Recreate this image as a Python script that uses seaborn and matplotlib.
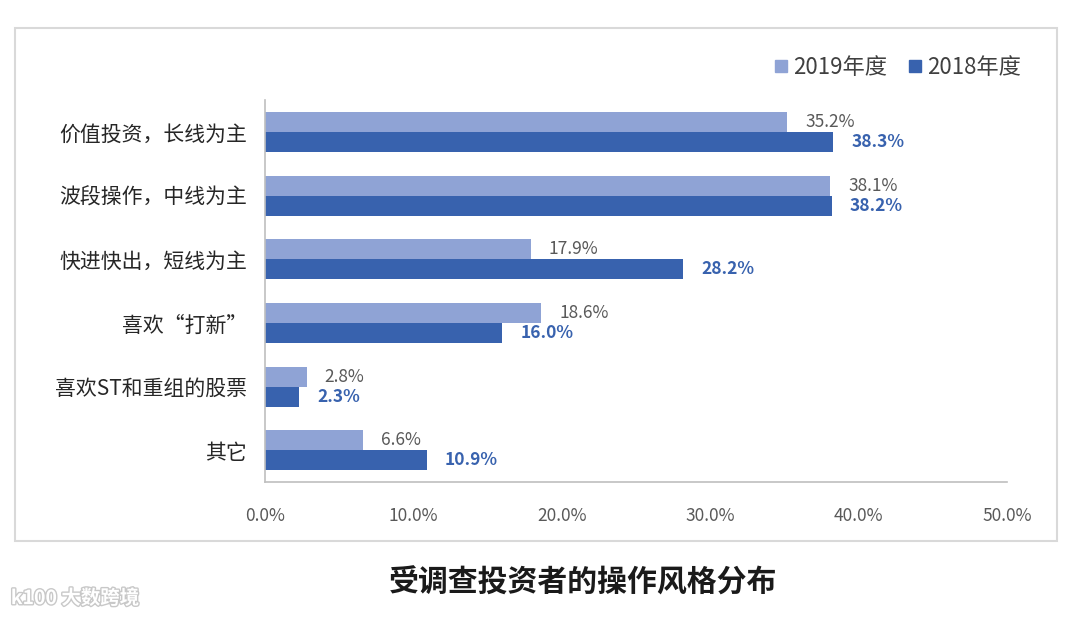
import numpy as np
import pandas as pd
import seaborn as sns
import matplotlib.pyplot as plt
from matplotlib.patches import Rectangle, Patch
import matplotlib.patheffects as pe

# data
categories = ['价值投资，长线为主', '波段操作，中线为主', '快进快出，短线为主',
              '喜欢“打新”', '喜欢ST和重组的股票', '其它']
vals_2019 = [35.2, 38.1, 17.9, 18.6, 2.8, 6.6]
vals_2018 = [38.3, 38.2, 28.2, 16.0, 2.3, 10.9]
years = ['2019年度', '2018年度']

light_blue = '#8FA3D5'
dark_blue = '#3862AE'

df = pd.DataFrame({
    'category': categories * 2,
    'value': vals_2019 + vals_2018,
    'year': [years[0]] * len(categories) + [years[1]] * len(categories),
})

sns.set_theme(style='white')
plt.rcParams['font.family'] = ['Noto Sans CJK SC', 'DejaVu Sans']

fig = plt.figure(figsize=(10.8, 6.18), dpi=100)
ax = fig.add_axes([0.2454, 0.22, 0.687, 0.618])

sns.barplot(data=df, y='category', x='value', hue='year', order=categories,
            hue_order=years, palette=[light_blue, dark_blue], orient='h',
            width=0.63, gap=0, saturation=1, linewidth=0, ax=ax, legend=False)

# value labels
label_styles = [('#595959', 'normal'), (dark_blue, 'bold')]
for cont, (col, fw) in zip(ax.containers, label_styles):
    ax.bar_label(cont, labels=[f'{b.get_width():.1f}%' for b in cont],
                 padding=13, color=col, fontsize=12.5, fontweight=fw)

ax.set_xlim(0, 50)
ax.set_xticks(np.arange(0, 51, 10))
ax.set_xticklabels([f'{t:.1f}%' for t in np.arange(0, 51, 10)], color='#595959', fontsize=12.5)
ax.set_xlabel('')
ax.set_ylabel('')
ax.tick_params(axis='y', labelsize=15, colors='#262626', length=0, pad=13)
ax.tick_params(axis='x', direction='in', length=5, color='#bfbfbf', pad=18)
for s in ['top', 'right']:
    ax.spines[s].set_visible(False)
for s in ['left', 'bottom']:
    ax.spines[s].set_color('#bfbfbf')
    ax.spines[s].set_linewidth(1.2)

# legend
handles = [Patch(color=light_blue, label=years[0]), Patch(color=dark_blue, label=years[1])]
fig.legend(handles=handles, loc='center right', bbox_to_anchor=(0.964, 0.891), ncol=2,
           frameon=False, fontsize=16, handlelength=0.5, handleheight=0.5,
           handletextpad=0.3, columnspacing=1.0, labelcolor='#404040')

# outer frame
fig.patches.append(Rectangle((0.0139, 0.1246), 0.9648, 0.830, transform=fig.transFigure,
                             fill=False, edgecolor='#d9d9d9', linewidth=1.5))

fig.text(0.54, 0.058, '受调查投资者的操作风格分布', ha='center', va='center',
         fontsize=21.5, fontweight='bold', color='#1a1a1a')

# watermark
fig.text(0.01, 0.032, 'k100 大数跨境', ha='left', va='center', fontsize=14,
         color='white', fontweight='bold',
         path_effects=[pe.withStroke(linewidth=2, foreground='#c8c8c8')])

fig.savefig('out.png', dpi=100)
